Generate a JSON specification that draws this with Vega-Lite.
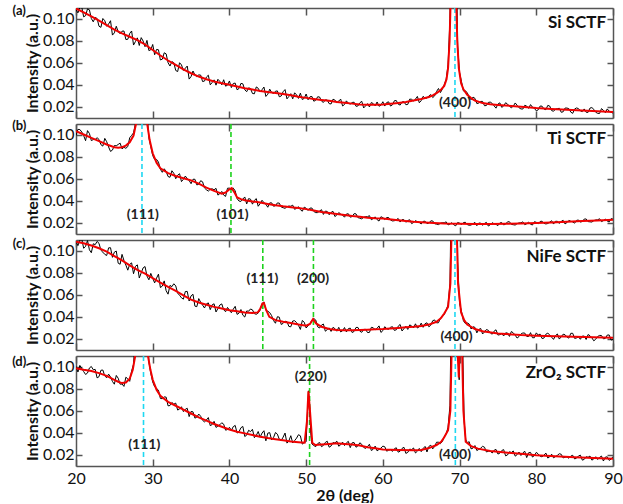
{
  "$schema": "https://vega.github.io/schema/vega-lite/v6.json",
  "padding": {"left": 12, "top": 4, "right": 0, "bottom": 0},
  "bounds": "flush",
  "spacing": 6,
  "config": {
    "font": "Lato",
    "view": {"stroke": null},
    "axis": {
      "grid": false,
      "domainColor": "#555",
      "domainWidth": 1.5,
      "tickColor": "#555",
      "tickWidth": 1.5,
      "labelColor": "#111",
      "titleColor": "#111",
      "labelFont": "Lato",
      "titleFont": "Lato",
      "labelFlush": false
    },
    "text": {"font": "Lato"}
  },
  "datasets": {
    "a_obs": [
      {"x":20,"y":0.108},{"x":20.5,"y":0.110},{"x":21,"y":0.1015},{"x":21.5,"y":0.1087},{"x":22,"y":0.100},{"x":22.5,"y":0.101},{"x":23,"y":0.093},{"x":23.5,"y":0.100},{"x":24,"y":0.093},{"x":24.5,"y":0.098},
      {"x":25,"y":0.087},{"x":25.5,"y":0.088},{"x":26,"y":0.0885},{"x":26.5,"y":0.081},{"x":27,"y":0.0865},{"x":27.5,"y":0.076},{"x":28,"y":0.0825},{"x":28.5,"y":0.0827},{"x":29,"y":0.0745},{"x":29.5,"y":0.071},
      {"x":30,"y":0.0765},{"x":30.5,"y":0.072},{"x":31,"y":0.0625},{"x":31.5,"y":0.069},{"x":32,"y":0.060},{"x":32.5,"y":0.061},{"x":33,"y":0.053},{"x":33.5,"y":0.060},{"x":34,"y":0.053},{"x":34.5,"y":0.057},
      {"x":35,"y":0.0475},{"x":35.5,"y":0.049},{"x":36,"y":0.049},{"x":36.5,"y":0.043},{"x":37,"y":0.047},{"x":37.5,"y":0.040},{"x":38,"y":0.0445},{"x":38.5,"y":0.045},{"x":39,"y":0.040},{"x":39.5,"y":0.0388},
      {"x":40,"y":0.0435},{"x":40.5,"y":0.0412},{"x":41,"y":0.0355},{"x":41.5,"y":0.0413},{"x":42,"y":0.0355},{"x":42.5,"y":0.0373},{"x":43,"y":0.0322},{"x":43.5,"y":0.0381},{"x":44,"y":0.0335},{"x":44.5,"y":0.038},
      {"x":45,"y":0.0315},{"x":45.5,"y":0.0331},{"x":46,"y":0.0342},{"x":46.5,"y":0.0292},{"x":47,"y":0.0338},{"x":47.5,"y":0.0273},{"x":48,"y":0.032},{"x":48.5,"y":0.0328},{"x":49,"y":0.0277},{"x":49.5,"y":0.0267},
      {"x":50,"y":0.0317},{"x":50.5,"y":0.0292},{"x":51,"y":0.0252},{"x":51.5,"y":0.0292},{"x":52,"y":0.0253},{"x":52.5,"y":0.0264},{"x":53,"y":0.023},{"x":53.5,"y":0.027},{"x":54,"y":0.024},{"x":54.5,"y":0.0271},
      {"x":55,"y":0.0222},{"x":55.5,"y":0.0233},{"x":56,"y":0.024},{"x":56.5,"y":0.0206},{"x":57,"y":0.0237},{"x":57.5,"y":0.0191},{"x":58,"y":0.023},{"x":58.5,"y":0.024},{"x":59,"y":0.021},{"x":59.5,"y":0.0206},
      {"x":60,"y":0.0247},{"x":60.5,"y":0.024},{"x":61,"y":0.0208},{"x":61.5,"y":0.0256},{"x":62,"y":0.0225},{"x":62.5,"y":0.0245},{"x":63,"y":0.022},{"x":63.5,"y":0.0271},{"x":64,"y":0.0253},{"x":64.5,"y":0.0295},
      {"x":65,"y":0.0257},{"x":65.5,"y":0.028},{"x":66,"y":0.030},{"x":66.5,"y":0.0285},{"x":67,"y":0.034},{"x":67.5,"y":0.033},{"x":68,"y":0.040},{"x":68.25,"y":0.045},{"x":68.5,"y":0.058},{"x":68.75,"y":0.1},
      {"x":69,"y":0.3},{"x":69.25,"y":0.4},{"x":69.5,"y":0.2},{"x":69.75,"y":0.075},{"x":70,"y":0.051},{"x":70.25,"y":0.043},{"x":70.5,"y":0.0345},{"x":71,"y":0.033},{"x":71.5,"y":0.0265},{"x":72,"y":0.0278},
      {"x":72.5,"y":0.0235},{"x":73,"y":0.025},{"x":73.5,"y":0.0213},{"x":74,"y":0.0244},{"x":74.5,"y":0.021},{"x":75,"y":0.0226},{"x":75.5,"y":0.0196},{"x":76,"y":0.0238},{"x":76.5,"y":0.0205},{"x":77,"y":0.0207},
      {"x":77.5,"y":0.0215},{"x":78,"y":0.0182},{"x":78.5,"y":0.0215},{"x":79,"y":0.0187},{"x":79.5,"y":0.0198},{"x":80,"y":0.0165},{"x":80.5,"y":0.0208},{"x":81,"y":0.0181},{"x":81.5,"y":0.0214},{"x":82,"y":0.0167},
      {"x":82.5,"y":0.018},{"x":83,"y":0.0188},{"x":83.5,"y":0.0156},{"x":84,"y":0.019},{"x":84.5,"y":0.0153},{"x":85,"y":0.0182},{"x":85.5,"y":0.0185},{"x":86,"y":0.0158},{"x":86.5,"y":0.0152},{"x":87,"y":0.019},
      {"x":87.5,"y":0.0178},{"x":88,"y":0.0142},{"x":88.5,"y":0.0185},{"x":89,"y":0.0148},{"x":89.5,"y":0.0162},{"x":90,"y":0.0145},
      {"x":20.25,"y":0.1051},{"x":20.75,"y":0.1103},{"x":21.25,"y":0.1026},{"x":21.75,"y":0.1078},{"x":22.25,"y":0.097},{"x":22.75,"y":0.100},{"x":23.25,"y":0.092},{"x":23.75,"y":0.098},{"x":24.25,"y":0.095},{"x":24.75,"y":0.085},
      {"x":25.25,"y":0.093},{"x":25.75,"y":0.0862},{"x":26.25,"y":0.0887},{"x":26.75,"y":0.0812},{"x":27.25,"y":0.0887},{"x":27.75,"y":0.0792},{"x":28.25,"y":0.0756},{"x":28.75,"y":0.0796},{"x":29.25,"y":0.0802},{"x":29.75,"y":0.0717},
      {"x":30.25,"y":0.0672},{"x":30.75,"y":0.0717},{"x":31.25,"y":0.0632},{"x":31.75,"y":0.068},{"x":32.25,"y":0.057},{"x":32.75,"y":0.060},{"x":33.25,"y":0.052},{"x":33.75,"y":0.058},{"x":34.25,"y":0.055},{"x":34.75,"y":0.0452},
      {"x":35.25,"y":0.0525},{"x":35.75,"y":0.0475},{"x":36.25,"y":0.0488},{"x":36.75,"y":0.0434},{"x":37.25,"y":0.0487},{"x":37.75,"y":0.0421},{"x":38.25,"y":0.0397},{"x":38.75,"y":0.0431},{"x":39.25,"y":0.0446},{"x":39.75,"y":0.0397},
      {"x":40.25,"y":0.0375},{"x":40.75,"y":0.0416},{"x":41.25,"y":0.0367},{"x":41.75,"y":0.0409},{"x":42.25,"y":0.0338},{"x":42.75,"y":0.0367},{"x":43.25,"y":0.0319},{"x":43.75,"y":0.0369},{"x":44.25,"y":0.0356},{"x":44.75,"y":0.0295},
      {"x":45.25,"y":0.0361},{"x":45.75,"y":0.0322},{"x":46.25,"y":0.0345},{"x":46.75,"y":0.0299},{"x":47.25,"y":0.0357},{"x":47.75,"y":0.0295},{"x":48.25,"y":0.0273},{"x":48.75,"y":0.0309},{"x":49.25,"y":0.0325},{"x":49.75,"y":0.0278},
      {"x":50.25,"y":0.0265},{"x":50.75,"y":0.0295},{"x":51.25,"y":0.026},{"x":51.75,"y":0.029},{"x":52.25,"y":0.0241},{"x":52.75,"y":0.0262},{"x":53.25,"y":0.0227},{"x":53.75,"y":0.0262},{"x":54.25,"y":0.0253},{"x":54.75,"y":0.0209},
      {"x":55.25,"y":0.0255},{"x":55.75,"y":0.0226},{"x":56.25,"y":0.0243},{"x":56.75,"y":0.0209},{"x":57.25,"y":0.0251},{"x":57.75,"y":0.021},{"x":58.25,"y":0.020},{"x":58.75,"y":0.023},{"x":59.25,"y":0.0245},{"x":59.75,"y":0.0216},
      {"x":60.25,"y":0.0208},{"x":60.75,"y":0.0246},{"x":61.25,"y":0.0219},{"x":61.75,"y":0.0258},{"x":62.25,"y":0.0217},{"x":62.75,"y":0.0247},{"x":63.25,"y":0.0223},{"x":63.75,"y":0.0269},{"x":64.25,"y":0.0271},{"x":64.75,"y":0.0238},
      {"x":65.25,"y":0.0296},{"x":65.75,"y":0.028},{"x":66.25,"y":0.0312},{"x":66.75,"y":0.030},{"x":67.25,"y":0.0367},{"x":67.75,"y":0.036},{"x":70.75,"y":0.0345},{"x":71.25,"y":0.0285},{"x":71.75,"y":0.0289},{"x":72.25,"y":0.0231},
      {"x":72.75,"y":0.025},{"x":73.25,"y":0.0211},{"x":73.75,"y":0.0241},{"x":74.25,"y":0.0232},{"x":74.75,"y":0.0189},{"x":75.25,"y":0.0237},{"x":75.75,"y":0.0209},{"x":76.25,"y":0.0226},{"x":76.75,"y":0.0193},{"x":77.25,"y":0.0236},
      {"x":77.75,"y":0.0193},{"x":78.25,"y":0.0181},{"x":78.75,"y":0.0208},{"x":79.25,"y":0.0221},{"x":79.75,"y":0.0188},{"x":80.25,"y":0.0174},{"x":80.75,"y":0.0207},{"x":81.25,"y":0.0175},{"x":81.75,"y":0.0208},{"x":82.25,"y":0.0161},
      {"x":82.75,"y":0.0184},{"x":83.25,"y":0.0152},{"x":83.75,"y":0.019},{"x":84.25,"y":0.0184},{"x":84.75,"y":0.0142},{"x":85.25,"y":0.0191},{"x":85.75,"y":0.0164},{"x":86.25,"y":0.0182},{"x":86.75,"y":0.0151},{"x":87.25,"y":0.0194},
      {"x":87.75,"y":0.0152},{"x":88.25,"y":0.0141},{"x":88.75,"y":0.0169},{"x":89.25,"y":0.0182},{"x":89.75,"y":0.0151}
    ],
    "a_fit": [
      {"x":20,"y":0.109},{"x":21,"y":0.1055},{"x":22,"y":0.102},{"x":23,"y":0.098},{"x":24,"y":0.094},{"x":25,"y":0.090},{"x":26,"y":0.0865},{"x":27,"y":0.0835},{"x":28,"y":0.0805},{"x":29,"y":0.0765},
      {"x":30,"y":0.0715},{"x":31,"y":0.0665},{"x":32,"y":0.062},{"x":33,"y":0.058},{"x":34,"y":0.054},{"x":35,"y":0.0505},{"x":36,"y":0.0475},{"x":37,"y":0.045},{"x":38,"y":0.043},{"x":39,"y":0.0415},
      {"x":40,"y":0.040},{"x":41,"y":0.0385},{"x":42,"y":0.037},{"x":43,"y":0.0357},{"x":44,"y":0.0345},{"x":45,"y":0.0335},{"x":46,"y":0.0327},{"x":47,"y":0.0318},{"x":48,"y":0.0305},{"x":49,"y":0.0292},
      {"x":50,"y":0.0282},{"x":51,"y":0.0272},{"x":52,"y":0.0263},{"x":53,"y":0.0255},{"x":54,"y":0.0245},{"x":55,"y":0.0237},{"x":56,"y":0.023},{"x":57,"y":0.0222},{"x":58,"y":0.022},{"x":59,"y":0.022},
      {"x":60,"y":0.0222},{"x":61,"y":0.0228},{"x":62,"y":0.0235},{"x":63,"y":0.0245},{"x":64,"y":0.0258},{"x":65,"y":0.0272},{"x":66,"y":0.029},{"x":66.5,"y":0.0305},{"x":67,"y":0.0325},{"x":67.5,"y":0.035},
      {"x":68,"y":0.039},{"x":68.3,"y":0.045},{"x":68.5,"y":0.055},{"x":68.7,"y":0.08},{"x":68.85,"y":0.12},{"x":69.2,"y":0.5},{"x":69.55,"y":0.12},{"x":69.7,"y":0.08},{"x":69.9,"y":0.055},{"x":70.2,"y":0.0415},
      {"x":70.5,"y":0.036},{"x":71,"y":0.031},{"x":71.5,"y":0.028},{"x":72,"y":0.0258},{"x":73,"y":0.0235},{"x":74,"y":0.0224},{"x":75,"y":0.0218},{"x":76,"y":0.0213},{"x":78,"y":0.0202},{"x":80,"y":0.019},
      {"x":82,"y":0.0182},{"x":84,"y":0.0175},{"x":86,"y":0.0168},{"x":88,"y":0.0162},{"x":90,"y":0.0155}
    ],
    "a_lines": [{"x":69.4,"phase":"substrate"}],
    "a_peaks": [{"x":69.4,"y":0.0235,"label":"(400)"}],
    "a_tags": [{"x":12.6,"y":0.1072,"label":"(a)"}],
    "a_title": [{"x":89.1,"y":0.096,"label":"Si SCTF"}],
    "b_obs": [
      {"x":20,"y":0.099},{"x":20.5,"y":0.1045},{"x":21,"y":0.099},{"x":21.5,"y":0.1035},{"x":22,"y":0.0945},{"x":22.5,"y":0.0955},{"x":23,"y":0.0955},{"x":23.5,"y":0.0895},{"x":24,"y":0.0935},{"x":24.5,"y":0.0847},
      {"x":25,"y":0.090},{"x":25.5,"y":0.091},{"x":26,"y":0.087},{"x":26.5,"y":0.0875},{"x":27,"y":0.097},{"x":27.5,"y":0.1015},{"x":27.75,"y":0.11},{"x":28,"y":0.2},{"x":28.25,"y":0.4},{"x":28.5,"y":0.5},
      {"x":28.75,"y":0.4},{"x":29,"y":0.2},{"x":29.25,"y":0.12},{"x":29.5,"y":0.097},{"x":29.75,"y":0.089},{"x":30,"y":0.081},{"x":30.5,"y":0.0775},{"x":31,"y":0.0685},{"x":31.5,"y":0.069},{"x":32,"y":0.062},
      {"x":32.5,"y":0.0672},{"x":33,"y":0.060},{"x":33.5,"y":0.0645},{"x":34,"y":0.0595},{"x":34.5,"y":0.060},{"x":35,"y":0.0555},{"x":35.5,"y":0.0595},{"x":36,"y":0.055},{"x":36.5,"y":0.0572},{"x":37,"y":0.050},
      {"x":37.5,"y":0.0505},{"x":38,"y":0.050},{"x":38.5,"y":0.0452},{"x":39,"y":0.0485},{"x":39.5,"y":0.044},{"x":40,"y":0.0515},{"x":40.5,"y":0.0515},{"x":41,"y":0.042},{"x":41.5,"y":0.0395},{"x":42,"y":0.0435},
      {"x":42.5,"y":0.042},{"x":43,"y":0.037},{"x":43.5,"y":0.042},{"x":44,"y":0.0375},{"x":44.5,"y":0.0383},{"x":45,"y":0.0342},{"x":45.5,"y":0.0382},{"x":46,"y":0.0356},{"x":46.5,"y":0.0379},{"x":47,"y":0.0338},
      {"x":47.5,"y":0.0347},{"x":48,"y":0.0351},{"x":48.5,"y":0.0323},{"x":49,"y":0.0347},{"x":49.5,"y":0.0306},{"x":50,"y":0.0333},{"x":50.5,"y":0.0334},{"x":51,"y":0.0304},{"x":51.5,"y":0.0294},{"x":52,"y":0.032},
      {"x":52.5,"y":0.0307},{"x":53,"y":0.0274},{"x":53.5,"y":0.0305},{"x":54,"y":0.0272},{"x":54.5,"y":0.028},{"x":55,"y":0.0252},{"x":55.5,"y":0.0283},{"x":56,"y":0.0258},{"x":56.5,"y":0.0282},{"x":57,"y":0.0243},
      {"x":57.5,"y":0.0251},{"x":58,"y":0.0256},{"x":58.5,"y":0.0229},{"x":59,"y":0.0255},{"x":59.5,"y":0.0217},{"x":60,"y":0.0248},{"x":60.5,"y":0.0248},{"x":61,"y":0.0226},{"x":61.5,"y":0.022},{"x":62,"y":0.024},
      {"x":62.5,"y":0.023},{"x":63,"y":0.0206},{"x":63.5,"y":0.0229},{"x":64,"y":0.0204},{"x":64.5,"y":0.0211},{"x":65,"y":0.0191},{"x":65.5,"y":0.0216},{"x":66,"y":0.0199},{"x":66.5,"y":0.0218},{"x":67,"y":0.0189},
      {"x":67.5,"y":0.0197},{"x":68,"y":0.0201},{"x":68.5,"y":0.0182},{"x":69,"y":0.0202},{"x":69.5,"y":0.0174},{"x":70,"y":0.0198},{"x":70.5,"y":0.0203},{"x":71,"y":0.0185},{"x":71.5,"y":0.0181},{"x":72,"y":0.0205},
      {"x":72.5,"y":0.0199},{"x":73,"y":0.0178},{"x":73.5,"y":0.0205},{"x":74,"y":0.0184},{"x":74.5,"y":0.0193},{"x":75,"y":0.0176},{"x":75.5,"y":0.0203},{"x":76,"y":0.0189},{"x":76.5,"y":0.0211},{"x":77,"y":0.0184},
      {"x":77.5,"y":0.0194},{"x":78,"y":0.0201},{"x":78.5,"y":0.0184},{"x":79,"y":0.0206},{"x":79.5,"y":0.0181},{"x":80,"y":0.0206},{"x":80.5,"y":0.0213},{"x":81,"y":0.0196},{"x":81.5,"y":0.0195},{"x":82,"y":0.022},
      {"x":82.5,"y":0.0215},{"x":83,"y":0.0195},{"x":83.5,"y":0.0224},{"x":84,"y":0.0204},{"x":84.5,"y":0.0215},{"x":85,"y":0.0198},{"x":85.5,"y":0.0227},{"x":86,"y":0.0214},{"x":86.5,"y":0.0236},{"x":87,"y":0.021},
      {"x":87.5,"y":0.0221},{"x":88,"y":0.0228},{"x":88.5,"y":0.0212},{"x":89,"y":0.0234},{"x":89.5,"y":0.0209},{"x":90,"y":0.0234},
      {"x":20.25,"y":0.1046},{"x":20.75,"y":0.1023},{"x":21.25,"y":0.0944},{"x":21.75,"y":0.1009},{"x":22.25,"y":0.0954},{"x":22.75,"y":0.0971},{"x":23.25,"y":0.0908},{"x":23.75,"y":0.0965},{"x":24.25,"y":0.0887},{"x":24.75,"y":0.0859},
      {"x":25.25,"y":0.0898},{"x":25.75,"y":0.0922},{"x":26.25,"y":0.0884},{"x":26.75,"y":0.0891},{"x":27.25,"y":0.0992},{"x":30.25,"y":0.0775},{"x":30.75,"y":0.075},{"x":31.25,"y":0.0658},{"x":31.75,"y":0.0666},{"x":32.25,"y":0.0613},
      {"x":32.75,"y":0.0649},{"x":33.25,"y":0.0632},{"x":33.75,"y":0.0574},{"x":34.25,"y":0.0624},{"x":34.75,"y":0.0584},{"x":35.25,"y":0.0595},{"x":35.75,"y":0.0544},{"x":36.25,"y":0.0582},{"x":36.75,"y":0.0516},{"x":37.25,"y":0.0488},
      {"x":37.75,"y":0.0509},{"x":38.25,"y":0.0513},{"x":38.75,"y":0.0465},{"x":39.25,"y":0.0452},{"x":39.75,"y":0.0514},{"x":40.25,"y":0.0503},{"x":40.75,"y":0.049},{"x":41.25,"y":0.0398},{"x":41.75,"y":0.0416},{"x":42.25,"y":0.0372},
      {"x":42.75,"y":0.0415},{"x":43.25,"y":0.0404},{"x":43.75,"y":0.0351},{"x":44.25,"y":0.0405},{"x":44.75,"y":0.0369},{"x":45.25,"y":0.0381},{"x":45.75,"y":0.0351},{"x":46.25,"y":0.0381},{"x":46.75,"y":0.0344},{"x":47.25,"y":0.0332},
      {"x":47.75,"y":0.0353},{"x":48.25,"y":0.0361},{"x":48.75,"y":0.0333},{"x":49.25,"y":0.032},{"x":49.75,"y":0.0343},{"x":50.25,"y":0.0313},{"x":50.75,"y":0.0335},{"x":51.25,"y":0.0293},{"x":51.75,"y":0.0307},{"x":52.25,"y":0.0277},
      {"x":52.75,"y":0.0304},{"x":53.25,"y":0.0295},{"x":53.75,"y":0.0258},{"x":54.25,"y":0.0294},{"x":54.75,"y":0.027},{"x":55.25,"y":0.0281},{"x":55.75,"y":0.0252},{"x":56.25,"y":0.0284},{"x":56.75,"y":0.0248},{"x":57.25,"y":0.0237},
      {"x":57.75,"y":0.0257},{"x":58.25,"y":0.0266},{"x":58.75,"y":0.024},{"x":59.25,"y":0.023},{"x":59.75,"y":0.0256},{"x":60.25,"y":0.0232},{"x":60.75,"y":0.0249},{"x":61.25,"y":0.0218},{"x":61.75,"y":0.023},{"x":62.25,"y":0.0208},
      {"x":62.75,"y":0.0229},{"x":63.25,"y":0.0222},{"x":63.75,"y":0.0194},{"x":64.25,"y":0.0221},{"x":64.75,"y":0.0204},{"x":65.25,"y":0.0214},{"x":65.75,"y":0.0194},{"x":66.25,"y":0.0219},{"x":66.75,"y":0.0193},{"x":67.25,"y":0.0185},
      {"x":67.75,"y":0.0202},{"x":68.25,"y":0.021},{"x":68.75,"y":0.019},{"x":69.25,"y":0.0183},{"x":69.75,"y":0.0204},{"x":70.25,"y":0.0186},{"x":70.75,"y":0.0206},{"x":71.25,"y":0.0179},{"x":71.75,"y":0.0193},{"x":72.25,"y":0.0175},
      {"x":72.75,"y":0.0199},{"x":73.25,"y":0.0196},{"x":73.75,"y":0.0172},{"x":74.25,"y":0.0202},{"x":74.75,"y":0.0187},{"x":75.25,"y":0.020},{"x":75.75,"y":0.0182},{"x":76.25,"y":0.021},{"x":76.75,"y":0.0187},{"x":77.25,"y":0.0181},
      {"x":77.75,"y":0.020},{"x":78.25,"y":0.021},{"x":78.75,"y":0.0193},{"x":79.25,"y":0.0189},{"x":79.75,"y":0.0211},{"x":80.25,"y":0.0194},{"x":80.75,"y":0.0216},{"x":81.25,"y":0.0191},{"x":81.75,"y":0.0207},{"x":82.25,"y":0.019},
      {"x":82.75,"y":0.0215},{"x":83.25,"y":0.0214},{"x":83.75,"y":0.0191},{"x":84.25,"y":0.0223},{"x":84.75,"y":0.0209},{"x":85.25,"y":0.0223},{"x":85.75,"y":0.0207},{"x":86.25,"y":0.0235},{"x":86.75,"y":0.0212},{"x":87.25,"y":0.0208},
      {"x":87.75,"y":0.0227},{"x":88.25,"y":0.0238},{"x":88.75,"y":0.0221},{"x":89.25,"y":0.0217},{"x":89.75,"y":0.0239}
    ],
    "b_fit": [
      {"x":20,"y":0.103},{"x":21,"y":0.100},{"x":22,"y":0.097},{"x":23,"y":0.094},{"x":24,"y":0.091},{"x":25,"y":0.0885},{"x":25.5,"y":0.088},{"x":26,"y":0.0885},{"x":26.5,"y":0.090},{"x":27,"y":0.093},
      {"x":27.5,"y":0.099},{"x":27.8,"y":0.109},{"x":28,"y":0.13},{"x":28.5,"y":0.4},{"x":29,"y":0.15},{"x":29.3,"y":0.109},{"x":29.6,"y":0.095},{"x":30,"y":0.083},{"x":30.5,"y":0.0745},{"x":31,"y":0.0695},
      {"x":32,"y":0.065},{"x":33,"y":0.0625},{"x":34,"y":0.0605},{"x":35,"y":0.0585},{"x":36,"y":0.0555},{"x":37,"y":0.052},{"x":38,"y":0.049},{"x":39,"y":0.0465},{"x":39.5,"y":0.0475},{"x":40,"y":0.0505},
      {"x":40.3,"y":0.0515},{"x":40.7,"y":0.047},{"x":41,"y":0.043},{"x":41.5,"y":0.0415},{"x":42,"y":0.0405},{"x":43,"y":0.0395},{"x":44,"y":0.0385},{"x":45,"y":0.0372},{"x":46,"y":0.036},{"x":47,"y":0.035},
      {"x":48,"y":0.0343},{"x":49,"y":0.0335},{"x":50,"y":0.0325},{"x":51,"y":0.0312},{"x":52,"y":0.030},{"x":53,"y":0.029},{"x":54,"y":0.028},{"x":55,"y":0.0272},{"x":56,"y":0.0262},{"x":57,"y":0.0255},
      {"x":58,"y":0.0248},{"x":59,"y":0.0243},{"x":60,"y":0.024},{"x":62,"y":0.0225},{"x":64,"y":0.021},{"x":66,"y":0.0202},{"x":68,"y":0.0195},{"x":70,"y":0.0192},{"x":72,"y":0.019},{"x":74,"y":0.019},
      {"x":76,"y":0.0192},{"x":78,"y":0.0195},{"x":80,"y":0.020},{"x":82,"y":0.0205},{"x":84,"y":0.021},{"x":86,"y":0.0217},{"x":88,"y":0.0222},{"x":90,"y":0.0228}
    ],
    "b_lines": [{"x":28.6,"phase":"substrate"},{"x":40.2,"phase":"film"}],
    "b_peaks": [{"x":28.7,"y":0.0272,"label":"(111)"},{"x":40.4,"y":0.0272,"label":"(101)"}],
    "b_tags": [{"x":12.6,"y":0.1077,"label":"(b)"}],
    "b_title": [{"x":89.1,"y":0.096,"label":"Ti SCTF"}],
    "c_obs": [
      {"x":20,"y":0.108},{"x":20.5,"y":0.1093},{"x":21,"y":0.102},{"x":21.5,"y":0.109},{"x":22,"y":0.098},{"x":22.5,"y":0.1053},{"x":23,"y":0.1065},{"x":23.5,"y":0.0985},{"x":24,"y":0.0955},{"x":24.5,"y":0.1025},
      {"x":25,"y":0.0985},{"x":25.5,"y":0.0885},{"x":26,"y":0.0965},{"x":26.5,"y":0.0868},{"x":27,"y":0.0875},{"x":27.5,"y":0.079},{"x":28,"y":0.087},{"x":28.5,"y":0.0798},{"x":29,"y":0.0855},{"x":29.5,"y":0.0735},
      {"x":30,"y":0.075},{"x":30.5,"y":0.075},{"x":31,"y":0.0665},{"x":31.5,"y":0.0725},{"x":32,"y":0.0605},{"x":32.5,"y":0.0673},{"x":33,"y":0.068},{"x":33.5,"y":0.0595},{"x":34,"y":0.056},{"x":34.5,"y":0.063},
      {"x":35,"y":0.059},{"x":35.5,"y":0.0497},{"x":36,"y":0.0565},{"x":36.5,"y":0.0506},{"x":37,"y":0.0517},{"x":37.5,"y":0.0465},{"x":38,"y":0.0518},{"x":38.5,"y":0.0475},{"x":39,"y":0.0517},{"x":39.5,"y":0.0446},
      {"x":40,"y":0.046},{"x":40.5,"y":0.0469},{"x":41,"y":0.0422},{"x":41.5,"y":0.0466},{"x":42,"y":0.0398},{"x":42.5,"y":0.0451},{"x":43,"y":0.0463},{"x":43.5,"y":0.0423},{"x":44,"y":0.046},{"x":44.25,"y":0.052},
      {"x":44.5,"y":0.0535},{"x":44.75,"y":0.046},{"x":45,"y":0.0451},{"x":45.5,"y":0.0411},{"x":46,"y":0.0342},{"x":46.5,"y":0.0397},{"x":47,"y":0.0341},{"x":47.5,"y":0.0357},{"x":48,"y":0.031},{"x":48.5,"y":0.0365},
      {"x":49,"y":0.0323},{"x":49.5,"y":0.0367},{"x":50,"y":0.0299},{"x":50.5,"y":0.0335},{"x":50.75,"y":0.037},{"x":51,"y":0.0385},{"x":51.5,"y":0.031},{"x":52,"y":0.0325},{"x":52.5,"y":0.027},{"x":53,"y":0.030},
      {"x":53.5,"y":0.0305},{"x":54,"y":0.027},{"x":54.5,"y":0.0264},{"x":55,"y":0.0303},{"x":55.5,"y":0.0293},{"x":56,"y":0.0258},{"x":56.5,"y":0.0304},{"x":57,"y":0.027},{"x":57.5,"y":0.0286},{"x":58,"y":0.0258},
      {"x":58.5,"y":0.0305},{"x":59,"y":0.0282},{"x":59.5,"y":0.0318},{"x":60,"y":0.0275},{"x":60.5,"y":0.0292},{"x":61,"y":0.0305},{"x":61.5,"y":0.0277},{"x":62,"y":0.0315},{"x":62.5,"y":0.0272},{"x":63,"y":0.0315},
      {"x":63.5,"y":0.0327},{"x":64,"y":0.030},{"x":64.5,"y":0.0299},{"x":65,"y":0.0343},{"x":65.5,"y":0.0338},{"x":66,"y":0.031},{"x":66.5,"y":0.0365},{"x":67,"y":0.0345},{"x":67.5,"y":0.0385},{"x":68,"y":0.042},
      {"x":68.25,"y":0.046},{"x":68.5,"y":0.051},{"x":68.75,"y":0.07},{"x":69,"y":0.2},{"x":69.25,"y":0.4},{"x":69.5,"y":0.3},{"x":69.75,"y":0.09},{"x":70,"y":0.052},{"x":70.25,"y":0.045},{"x":70.5,"y":0.0365},
      {"x":71,"y":0.0345},{"x":71.5,"y":0.029},{"x":72,"y":0.0305},{"x":72.5,"y":0.0285},{"x":73,"y":0.0245},{"x":73.5,"y":0.0285},{"x":74,"y":0.0255},{"x":74.5,"y":0.027},{"x":75,"y":0.0235},{"x":75.5,"y":0.0248},
      {"x":76,"y":0.0255},{"x":76.5,"y":0.0223},{"x":77,"y":0.0255},{"x":77.5,"y":0.0208},{"x":78,"y":0.0245},{"x":78.5,"y":0.0253},{"x":79,"y":0.0222},{"x":79.5,"y":0.0211},{"x":80,"y":0.0255},{"x":80.5,"y":0.0244},
      {"x":81,"y":0.0208},{"x":81.5,"y":0.0252},{"x":82,"y":0.0216},{"x":82.5,"y":0.023},{"x":83,"y":0.0199},{"x":83.5,"y":0.0243},{"x":84,"y":0.0217},{"x":84.5,"y":0.0251},{"x":85,"y":0.0205},{"x":85.5,"y":0.0218},
      {"x":86,"y":0.0226},{"x":86.5,"y":0.0195},{"x":87,"y":0.0229},{"x":87.5,"y":0.0183},{"x":88,"y":0.0222},{"x":88.5,"y":0.0231},{"x":89,"y":0.0205},{"x":89.5,"y":0.0236},{"x":90,"y":0.0195},
      {"x":20.25,"y":0.1044},{"x":20.75,"y":0.1105},{"x":21.25,"y":0.1038},{"x":21.75,"y":0.1006},{"x":22.25,"y":0.1061},{"x":22.75,"y":0.1082},{"x":23.25,"y":0.1002},{"x":23.75,"y":0.0965},{"x":24.25,"y":0.1024},{"x":24.75,"y":0.0938},
      {"x":25.25,"y":0.0995},{"x":25.75,"y":0.0876},{"x":26.25,"y":0.091},{"x":26.75,"y":0.0822},{"x":27.25,"y":0.0888},{"x":27.75,"y":0.0857},{"x":28.25,"y":0.0751},{"x":28.75,"y":0.0843},{"x":29.25,"y":0.0769},{"x":29.75,"y":0.0793},
      {"x":30.25,"y":0.0707},{"x":30.75,"y":0.0786},{"x":31.25,"y":0.0678},{"x":31.75,"y":0.0636},{"x":32.25,"y":0.0684},{"x":32.75,"y":0.0699},{"x":33.25,"y":0.0614},{"x":33.75,"y":0.0572},{"x":34.25,"y":0.0629},{"x":34.75,"y":0.0543},
      {"x":35.25,"y":0.0604},{"x":35.75,"y":0.0492},{"x":36.25,"y":0.0532},{"x":36.75,"y":0.048},{"x":37.25,"y":0.0526},{"x":37.75,"y":0.0509},{"x":38.25,"y":0.0444},{"x":38.75,"y":0.0507},{"x":39.25,"y":0.0464},{"x":39.75,"y":0.0485},
      {"x":40.25,"y":0.0437},{"x":40.75,"y":0.0495},{"x":41.25,"y":0.0434},{"x":41.75,"y":0.0415},{"x":42.25,"y":0.0453},{"x":42.75,"y":0.0471},{"x":43.25,"y":0.0429},{"x":43.75,"y":0.0435},{"x":45.25,"y":0.0438},{"x":45.75,"y":0.0366},
      {"x":46.25,"y":0.0401},{"x":46.75,"y":0.0331},{"x":47.25,"y":0.036},{"x":47.75,"y":0.0313},{"x":48.25,"y":0.0362},{"x":48.75,"y":0.0348},{"x":49.25,"y":0.0286},{"x":49.75,"y":0.0351},{"x":50.25,"y":0.032},{"x":51.25,"y":0.0371},
      {"x":51.75,"y":0.0299},{"x":52.25,"y":0.0335},{"x":52.75,"y":0.0285},{"x":53.25,"y":0.0268},{"x":53.75,"y":0.0293},{"x":54.25,"y":0.0305},{"x":54.75,"y":0.0274},{"x":55.25,"y":0.0263},{"x":55.75,"y":0.0298},{"x":56.25,"y":0.0268},
      {"x":56.75,"y":0.0304},{"x":57.25,"y":0.026},{"x":57.75,"y":0.0287},{"x":58.25,"y":0.0259},{"x":58.75,"y":0.0301},{"x":59.25,"y":0.0297},{"x":59.75,"y":0.0259},{"x":60.25,"y":0.0311},{"x":60.75,"y":0.0288},{"x":61.25,"y":0.0311},
      {"x":61.75,"y":0.0283},{"x":62.25,"y":0.0331},{"x":62.75,"y":0.0293},{"x":63.25,"y":0.0286},{"x":63.75,"y":0.0318},{"x":64.25,"y":0.0337},{"x":64.75,"y":0.0311},{"x":65.25,"y":0.0305},{"x":65.75,"y":0.0346},{"x":66.25,"y":0.0325},
      {"x":66.75,"y":0.0372},{"x":67.25,"y":0.0347},{"x":67.75,"y":0.041},{"x":70.75,"y":0.034},{"x":71.25,"y":0.0335},{"x":71.75,"y":0.031},{"x":72.25,"y":0.0255},{"x":72.75,"y":0.0295},{"x":73.25,"y":0.0263},{"x":73.75,"y":0.0278},
      {"x":74.25,"y":0.0243},{"x":74.75,"y":0.0283},{"x":75.25,"y":0.0239},{"x":75.75,"y":0.0227},{"x":76.25,"y":0.0254},{"x":76.75,"y":0.0267},{"x":77.25,"y":0.0234},{"x":77.75,"y":0.0222},{"x":78.25,"y":0.0254},{"x":78.75,"y":0.0223},
      {"x":79.25,"y":0.0257},{"x":79.75,"y":0.0211},{"x":80.25,"y":0.0235},{"x":80.75,"y":0.0204},{"x":81.25,"y":0.0243},{"x":81.75,"y":0.0237},{"x":82.25,"y":0.0196},{"x":82.75,"y":0.0245},{"x":83.25,"y":0.0219},{"x":83.75,"y":0.0238},
      {"x":84.25,"y":0.0207},{"x":84.75,"y":0.0251},{"x":85.25,"y":0.0209},{"x":85.75,"y":0.0197},{"x":86.25,"y":0.0226},{"x":86.75,"y":0.024},{"x":87.25,"y":0.0209},{"x":87.75,"y":0.0198},{"x":88.25,"y":0.0232},{"x":88.75,"y":0.0201},
      {"x":89.25,"y":0.0235},{"x":89.75,"y":0.019}
    ],
    "c_fit": [
      {"x":20,"y":0.108},{"x":21,"y":0.1065},{"x":22,"y":0.1045},{"x":23,"y":0.102},{"x":24,"y":0.099},{"x":25,"y":0.095},{"x":26,"y":0.091},{"x":27,"y":0.0865},{"x":28,"y":0.0825},{"x":29,"y":0.079},
      {"x":30,"y":0.075},{"x":31,"y":0.071},{"x":32,"y":0.067},{"x":33,"y":0.0635},{"x":34,"y":0.0595},{"x":35,"y":0.0555},{"x":36,"y":0.053},{"x":37,"y":0.051},{"x":38,"y":0.049},{"x":39,"y":0.0475},
      {"x":40,"y":0.046},{"x":41,"y":0.045},{"x":42,"y":0.044},{"x":43,"y":0.0435},{"x":43.7,"y":0.044},{"x":44,"y":0.047},{"x":44.3,"y":0.052},{"x":44.5,"y":0.0525},{"x":44.8,"y":0.046},{"x":45.2,"y":0.040},
      {"x":46,"y":0.037},{"x":47,"y":0.0355},{"x":48,"y":0.0345},{"x":49,"y":0.033},{"x":50,"y":0.032},{"x":50.5,"y":0.0335},{"x":50.9,"y":0.038},{"x":51.3,"y":0.034},{"x":52,"y":0.031},{"x":53,"y":0.029},
      {"x":54,"y":0.028},{"x":55,"y":0.0278},{"x":56,"y":0.0278},{"x":57,"y":0.028},{"x":58,"y":0.0283},{"x":59,"y":0.0287},{"x":60,"y":0.029},{"x":61,"y":0.0295},{"x":62,"y":0.030},{"x":63,"y":0.0305},
      {"x":64,"y":0.031},{"x":65,"y":0.0318},{"x":66,"y":0.033},{"x":67,"y":0.0355},{"x":67.6,"y":0.039},{"x":68,"y":0.043},{"x":68.5,"y":0.049},{"x":68.8,"y":0.07},{"x":69,"y":0.13},{"x":69.3,"y":0.5},
      {"x":69.6,"y":0.13},{"x":69.8,"y":0.07},{"x":70.2,"y":0.044},{"x":70.6,"y":0.037},{"x":71,"y":0.033},{"x":72,"y":0.029},{"x":73,"y":0.027},{"x":75,"y":0.025},{"x":78,"y":0.0235},{"x":80,"y":0.023},
      {"x":85,"y":0.022},{"x":90,"y":0.021}
    ],
    "c_lines": [{"x":44.35,"phase":"film"},{"x":50.95,"phase":"film"},{"x":69.4,"phase":"substrate"}],
    "c_peaks": [{"x":44.3,"y":0.0745,"label":"(111)"},{"x":50.9,"y":0.0745,"label":"(200)"},{"x":69.6,"y":0.022,"label":"(400)"}],
    "c_tags": [{"x":12.6,"y":0.1059,"label":"(c)"}],
    "c_title": [{"x":89.1,"y":0.0945,"label":"NiFe SCTF"}],
    "d_obs": [
      {"x":20,"y":0.1001},{"x":20.5,"y":0.101},{"x":21,"y":0.0954},{"x":21.5,"y":0.0941},{"x":22,"y":0.100},{"x":22.5,"y":0.0974},{"x":23,"y":0.0908},{"x":23.5,"y":0.0968},{"x":24,"y":0.0899},{"x":24.5,"y":0.0906},
      {"x":25,"y":0.084},{"x":25.5,"y":0.0894},{"x":26,"y":0.0842},{"x":26.5,"y":0.0903},{"x":27,"y":0.0866},{"x":27.5,"y":0.102},{"x":27.75,"y":0.13},{"x":28,"y":0.3},{"x":28.25,"y":0.5},{"x":28.5,"y":0.5},
      {"x":28.75,"y":0.5},{"x":29,"y":0.3},{"x":29.25,"y":0.14},{"x":29.5,"y":0.104},{"x":29.75,"y":0.094},{"x":30,"y":0.086},{"x":30.5,"y":0.0802},{"x":31,"y":0.0711},{"x":31.5,"y":0.0725},{"x":32,"y":0.0644},
      {"x":32.5,"y":0.0674},{"x":33,"y":0.0669},{"x":33.5,"y":0.0615},{"x":34,"y":0.0592},{"x":34.5,"y":0.0622},{"x":35,"y":0.0593},{"x":35.5,"y":0.0533},{"x":36,"y":0.057},{"x":36.5,"y":0.0513},{"x":37,"y":0.0516},
      {"x":37.5,"y":0.0465},{"x":38,"y":0.0504},{"x":38.5,"y":0.0461},{"x":39,"y":0.0491},{"x":39.5,"y":0.0424},{"x":40,"y":0.045},{"x":40.5,"y":0.0456},{"x":41,"y":0.0398},{"x":41.5,"y":0.0446},{"x":42,"y":0.0367},
      {"x":42.5,"y":0.0423},{"x":43,"y":0.0432},{"x":43.5,"y":0.0376},{"x":44,"y":0.0361},{"x":44.5,"y":0.0419},{"x":45,"y":0.0397},{"x":45.5,"y":0.0336},{"x":46,"y":0.0403},{"x":46.5,"y":0.0342},{"x":47,"y":0.0361},
      {"x":47.5,"y":0.0307},{"x":48,"y":0.0374},{"x":48.5,"y":0.033},{"x":49,"y":0.0383},{"x":49.5,"y":0.0298},{"x":50,"y":0.032},{"x":50.15,"y":0.055},{"x":50.3,"y":0.078},{"x":50.45,"y":0.065},{"x":50.6,"y":0.04},
      {"x":50.75,"y":0.03},{"x":51,"y":0.0285},{"x":51.5,"y":0.0302},{"x":52,"y":0.0275},{"x":52.5,"y":0.0313},{"x":53,"y":0.027},{"x":53.5,"y":0.0312},{"x":54,"y":0.0325},{"x":54.5,"y":0.0292},{"x":55,"y":0.0285},
      {"x":55.5,"y":0.0323},{"x":56,"y":0.031},{"x":56.5,"y":0.027},{"x":57,"y":0.031},{"x":57.5,"y":0.0268},{"x":58,"y":0.0275},{"x":58.5,"y":0.024},{"x":59,"y":0.028},{"x":59.5,"y":0.025},{"x":60,"y":0.028},
      {"x":60.5,"y":0.0234},{"x":61,"y":0.0248},{"x":61.5,"y":0.0256},{"x":62,"y":0.0225},{"x":62.5,"y":0.0259},{"x":63,"y":0.0214},{"x":63.5,"y":0.0253},{"x":64,"y":0.0263},{"x":64.5,"y":0.0234},{"x":65,"y":0.023},
      {"x":65.5,"y":0.0277},{"x":66,"y":0.0277},{"x":66.5,"y":0.0255},{"x":67,"y":0.0315},{"x":67.5,"y":0.0302},{"x":68,"y":0.0365},{"x":68.25,"y":0.039},{"x":68.5,"y":0.045},{"x":68.75,"y":0.065},{"x":69,"y":0.2},
      {"x":69.25,"y":0.45},{"x":69.5,"y":0.3},{"x":69.75,"y":0.12},{"x":69.95,"y":0.088},{"x":70.1,"y":0.15},{"x":70.25,"y":0.35},{"x":70.4,"y":0.12},{"x":70.6,"y":0.05},{"x":70.8,"y":0.034},{"x":71,"y":0.031},
      {"x":71.5,"y":0.0255},{"x":72,"y":0.0285},{"x":72.5,"y":0.025},{"x":73,"y":0.0278},{"x":73.5,"y":0.0227},{"x":74,"y":0.0235},{"x":74.5,"y":0.0242},{"x":75,"y":0.0208},{"x":75.5,"y":0.024},{"x":76,"y":0.0192},
      {"x":76.5,"y":0.0229},{"x":77,"y":0.0236},{"x":77.5,"y":0.0203},{"x":78,"y":0.0195},{"x":78.5,"y":0.0233},{"x":79,"y":0.022},{"x":79.5,"y":0.0181},{"x":80,"y":0.0223},{"x":80.5,"y":0.0188},{"x":81,"y":0.0198},
      {"x":81.5,"y":0.0172},{"x":82,"y":0.0207},{"x":82.5,"y":0.0185},{"x":83,"y":0.0211},{"x":83.5,"y":0.0173},{"x":84,"y":0.0183},{"x":84.5,"y":0.019},{"x":85,"y":0.0164},{"x":85.5,"y":0.0191},{"x":86,"y":0.0153},
      {"x":86.5,"y":0.0184},{"x":87,"y":0.019},{"x":87.5,"y":0.0165},{"x":88,"y":0.0159},{"x":88.5,"y":0.019},{"x":89,"y":0.018},{"x":89.5,"y":0.0151},{"x":90,"y":0.0185},
      {"x":20.25,"y":0.095},{"x":20.75,"y":0.0982},{"x":21.25,"y":0.0928},{"x":21.75,"y":0.0987},{"x":22.25,"y":0.0971},{"x":22.75,"y":0.0897},{"x":23.25,"y":0.0966},{"x":23.75,"y":0.0914},{"x":24.25,"y":0.0931},{"x":24.75,"y":0.0865},
      {"x":25.25,"y":0.0919},{"x":25.75,"y":0.084},{"x":26.25,"y":0.082},{"x":26.75,"y":0.0888},{"x":27.25,"y":0.096},{"x":30.25,"y":0.0817},{"x":30.75,"y":0.0786},{"x":31.25,"y":0.0709},{"x":31.75,"y":0.0723},{"x":32.25,"y":0.0647},
      {"x":32.75,"y":0.0659},{"x":33.25,"y":0.0606},{"x":33.75,"y":0.0636},{"x":34.25,"y":0.0613},{"x":34.75,"y":0.0547},{"x":35.25,"y":0.059},{"x":35.75,"y":0.0542},{"x":36.25,"y":0.055},{"x":36.75,"y":0.0499},{"x":37.25,"y":0.0538},
      {"x":37.75,"y":0.0475},{"x":38.25,"y":0.0449},{"x":38.75,"y":0.0473},{"x":39.25,"y":0.0478},{"x":39.75,"y":0.043},{"x":40.25,"y":0.0421},{"x":40.75,"y":0.0467},{"x":41.25,"y":0.041},{"x":41.75,"y":0.0458},{"x":42.25,"y":0.0379},
      {"x":42.75,"y":0.0411},{"x":43.25,"y":0.0356},{"x":43.75,"y":0.0412},{"x":44.25,"y":0.0398},{"x":44.75,"y":0.0328},{"x":45.25,"y":0.0402},{"x":45.75,"y":0.0357},{"x":46.25,"y":0.0388},{"x":46.75,"y":0.0331},{"x":47.25,"y":0.0398},
      {"x":47.75,"y":0.0328},{"x":48.25,"y":0.0308},{"x":48.75,"y":0.0352},{"x":49.25,"y":0.0373},{"x":49.75,"y":0.0313},{"x":51.25,"y":0.0275},{"x":51.75,"y":0.0313},{"x":52.25,"y":0.0286},{"x":52.75,"y":0.0324},{"x":53.25,"y":0.0281},
      {"x":53.75,"y":0.0308},{"x":54.25,"y":0.0279},{"x":54.75,"y":0.0316},{"x":55.25,"y":0.0309},{"x":55.75,"y":0.0266},{"x":56.25,"y":0.0312},{"x":56.75,"y":0.0282},{"x":57.25,"y":0.0296},{"x":57.75,"y":0.0259},{"x":58.25,"y":0.0297},
      {"x":58.75,"y":0.0252},{"x":59.25,"y":0.0237},{"x":59.75,"y":0.0262},{"x":60.25,"y":0.0274},{"x":60.75,"y":0.0243},{"x":61.25,"y":0.0232},{"x":61.75,"y":0.0265},{"x":62.25,"y":0.0234},{"x":62.75,"y":0.0269},{"x":63.25,"y":0.0223},
      {"x":63.75,"y":0.0248},{"x":64.25,"y":0.0218},{"x":64.75,"y":0.0259},{"x":65.25,"y":0.0258},{"x":65.75,"y":0.0227},{"x":66.25,"y":0.0288},{"x":66.75,"y":0.0277},{"x":67.25,"y":0.0315},{"x":67.75,"y":0.032},{"x":71.25,"y":0.032},
      {"x":71.75,"y":0.0262},{"x":72.25,"y":0.024},{"x":72.75,"y":0.0261},{"x":73.25,"y":0.027},{"x":73.75,"y":0.0233},{"x":74.25,"y":0.0218},{"x":74.75,"y":0.025},{"x":75.25,"y":0.0216},{"x":75.75,"y":0.0248},{"x":76.25,"y":0.020},
      {"x":76.75,"y":0.0222},{"x":77.25,"y":0.0189},{"x":77.75,"y":0.0226},{"x":78.25,"y":0.0219},{"x":78.75,"y":0.0176},{"x":79.25,"y":0.0223},{"x":79.75,"y":0.0194},{"x":80.25,"y":0.0209},{"x":80.75,"y":0.0183},{"x":81.25,"y":0.0217},
      {"x":81.75,"y":0.0183},{"x":82.25,"y":0.0174},{"x":82.75,"y":0.0196},{"x":83.25,"y":0.0206},{"x":83.75,"y":0.018},{"x":84.25,"y":0.017},{"x":84.75,"y":0.0197},{"x":85.25,"y":0.0171},{"x":85.75,"y":0.0198},{"x":86.25,"y":0.016},
      {"x":86.75,"y":0.0179},{"x":87.25,"y":0.0153},{"x":87.75,"y":0.0184},{"x":88.25,"y":0.0178},{"x":88.75,"y":0.0145},{"x":89.25,"y":0.0183},{"x":89.75,"y":0.0162}
    ],
    "d_fit": [
      {"x":20,"y":0.0985},{"x":21,"y":0.097},{"x":22,"y":0.096},{"x":23,"y":0.094},{"x":24,"y":0.0915},{"x":25,"y":0.088},{"x":25.5,"y":0.0862},{"x":26,"y":0.085},{"x":26.5,"y":0.0855},{"x":27,"y":0.089},
      {"x":27.4,"y":0.097},{"x":27.7,"y":0.109},{"x":28,"y":0.14},{"x":28.6,"y":0.5},{"x":29.2,"y":0.14},{"x":29.4,"y":0.109},{"x":29.7,"y":0.097},{"x":30,"y":0.088},{"x":30.5,"y":0.079},{"x":31,"y":0.0735},
      {"x":32,"y":0.068},{"x":33,"y":0.0645},{"x":34,"y":0.061},{"x":35,"y":0.0575},{"x":36,"y":0.054},{"x":37,"y":0.051},{"x":38,"y":0.048},{"x":39,"y":0.0455},{"x":40,"y":0.043},{"x":41,"y":0.041},
      {"x":42,"y":0.0395},{"x":43,"y":0.038},{"x":44,"y":0.0365},{"x":45,"y":0.0353},{"x":46,"y":0.0343},{"x":47,"y":0.0333},{"x":48,"y":0.0322},{"x":49,"y":0.0315},{"x":49.8,"y":0.031},{"x":50.1,"y":0.05},
      {"x":50.3,"y":0.0775},{"x":50.5,"y":0.06},{"x":50.8,"y":0.031},{"x":51.2,"y":0.029},{"x":52,"y":0.0295},{"x":53,"y":0.030},{"x":54,"y":0.0305},{"x":55,"y":0.030},{"x":56,"y":0.0295},{"x":57,"y":0.0285},
      {"x":58,"y":0.027},{"x":59,"y":0.026},{"x":60,"y":0.025},{"x":62,"y":0.0245},{"x":64,"y":0.0243},{"x":65,"y":0.0245},{"x":66,"y":0.0262},{"x":67,"y":0.029},{"x":67.6,"y":0.0318},{"x":68,"y":0.036},
      {"x":68.5,"y":0.0424},{"x":68.8,"y":0.06},{"x":68.95,"y":0.109},{"x":69.3,"y":0.4},{"x":69.7,"y":0.12},{"x":69.9,"y":0.09},{"x":70.05,"y":0.12},{"x":70.2,"y":0.4},{"x":70.35,"y":0.109},{"x":70.5,"y":0.06},
      {"x":70.8,"y":0.032},{"x":71.5,"y":0.028},{"x":72.4,"y":0.0257},{"x":74,"y":0.0235},{"x":76,"y":0.0222},{"x":78,"y":0.021},{"x":80,"y":0.0198},{"x":85,"y":0.018},{"x":90,"y":0.0165}
    ],
    "d_lines": [{"x":28.8,"phase":"substrate"},{"x":50.45,"phase":"film"},{"x":69.45,"phase":"substrate"}],
    "d_peaks": [{"x":28.9,"y":0.029,"label":"(111)"},{"x":50.6,"y":0.0908,"label":"(220)"},{"x":69.4,"y":0.0195,"label":"(400)"}],
    "d_tags": [{"x":12.6,"y":0.1041,"label":"(d)"}],
    "d_title": [{"x":89.1,"y":0.0945,"label":"ZrO₂ SCTF"}]
  },
  "vconcat": [
    {
      "width": 537, "height": 110,
      "layer": [
        {"data": {"name": "a_lines"}, "mark": {"type": "rule", "strokeDash": [5, 3], "strokeWidth": 1.6},
         "encoding": {"x": {"field": "x", "type": "quantitative", "scale": {"domain": [20, 90], "nice": false}, "axis": null},
                      "color": {"field": "phase", "type": "nominal", "scale": {"domain": ["substrate", "film"], "range": ["#1ed8f2", "#1ed21e"]}, "legend": null}}},
        {"data": {"name": "a_obs"}, "mark": {"type": "line", "color": "#000", "strokeWidth": 1, "clip": true},
         "encoding": {"x": {"field": "x", "type": "quantitative", "scale": {"domain": [20, 90], "nice": false}, "axis": {"orient": "bottom", "values": [20, 30, 40, 50, 60, 70, 80, 90], "labels": false, "title": null, "tickSize": -7}},
                      "y": {"field": "y", "type": "quantitative", "scale": {"domain": [0.01, 0.1095], "nice": false, "zero": false}, "axis": {"orient": "left", "values": [0.02, 0.04, 0.06, 0.08, 0.1], "format": ".2f", "title": "Intensity (a.u.)", "titleFontSize": 16, "titleFontWeight": "bold", "titlePadding": 2, "labelFontSize": 16, "tickSize": -6, "labelPadding": 8}}}},
        {"data": {"name": "a_fit"}, "mark": {"type": "line", "color": "#f00000", "strokeWidth": 2, "clip": true},
         "encoding": {"x": {"field": "x", "type": "quantitative", "scale": {"domain": [20, 90], "nice": false}, "axis": {"orient": "top", "values": [20, 30, 40, 50, 60, 70, 80, 90], "labels": false, "title": null, "tickSize": -7}},
                      "y": {"field": "y", "type": "quantitative", "scale": {"domain": [0.01, 0.1095], "nice": false, "zero": false}, "axis": {"orient": "right", "values": [0.02, 0.04, 0.06, 0.08, 0.1], "labels": false, "title": null, "tickSize": -6}}}},
        {"data": {"name": "a_peaks"}, "mark": {"type": "text", "fontSize": 14, "fontWeight": "bold", "color": "#222"},
         "encoding": {"x": {"field": "x", "type": "quantitative", "scale": {"domain": [20, 90], "nice": false}, "axis": null}, "y": {"field": "y", "type": "quantitative", "scale": {"domain": [0.01, 0.1095], "nice": false, "zero": false}, "axis": null}, "text": {"field": "label"}}},
        {"data": {"name": "a_tags"}, "mark": {"type": "text", "fontSize": 13, "fontWeight": "bold", "color": "#111"},
         "encoding": {"x": {"field": "x", "type": "quantitative", "scale": {"domain": [20, 90], "nice": false}, "axis": null}, "y": {"field": "y", "type": "quantitative", "scale": {"domain": [0.01, 0.1095], "nice": false, "zero": false}, "axis": null}, "text": {"field": "label"}}},
        {"data": {"name": "a_title"}, "mark": {"type": "text", "fontSize": 17, "fontWeight": "bold", "align": "right", "color": "#111"},
         "encoding": {"x": {"field": "x", "type": "quantitative", "scale": {"domain": [20, 90], "nice": false}, "axis": null}, "y": {"field": "y", "type": "quantitative", "scale": {"domain": [0.01, 0.1095], "nice": false, "zero": false}, "axis": null}, "text": {"field": "label"}}}
      ],
      "resolve": {"axis": {"x": "independent", "y": "independent"}}
    },
    {
      "width": 537, "height": 110,
      "layer": [
        {"data": {"name": "b_lines"}, "mark": {"type": "rule", "strokeDash": [5, 3], "strokeWidth": 1.6},
         "encoding": {"x": {"field": "x", "type": "quantitative", "scale": {"domain": [20, 90], "nice": false}, "axis": null},
                      "color": {"field": "phase", "type": "nominal", "scale": {"domain": ["substrate", "film"], "range": ["#1ed8f2", "#1ed21e"]}, "legend": null}}},
        {"data": {"name": "b_obs"}, "mark": {"type": "line", "color": "#000", "strokeWidth": 1, "clip": true},
         "encoding": {"x": {"field": "x", "type": "quantitative", "scale": {"domain": [20, 90], "nice": false}, "axis": {"orient": "bottom", "values": [20, 30, 40, 50, 60, 70, 80, 90], "labels": false, "title": null, "tickSize": -7}},
                      "y": {"field": "y", "type": "quantitative", "scale": {"domain": [0.01, 0.1095], "nice": false, "zero": false}, "axis": {"orient": "left", "values": [0.02, 0.04, 0.06, 0.08, 0.1], "format": ".2f", "title": "Intensity (a.u.)", "titleFontSize": 16, "titleFontWeight": "bold", "titlePadding": 2, "labelFontSize": 16, "tickSize": -6, "labelPadding": 8}}}},
        {"data": {"name": "b_fit"}, "mark": {"type": "line", "color": "#f00000", "strokeWidth": 2, "clip": true},
         "encoding": {"x": {"field": "x", "type": "quantitative", "scale": {"domain": [20, 90], "nice": false}, "axis": {"orient": "top", "values": [20, 30, 40, 50, 60, 70, 80, 90], "labels": false, "title": null, "tickSize": -7}},
                      "y": {"field": "y", "type": "quantitative", "scale": {"domain": [0.01, 0.1095], "nice": false, "zero": false}, "axis": {"orient": "right", "values": [0.02, 0.04, 0.06, 0.08, 0.1], "labels": false, "title": null, "tickSize": -6}}}},
        {"data": {"name": "b_peaks"}, "mark": {"type": "text", "fontSize": 14, "fontWeight": "bold", "color": "#222"},
         "encoding": {"x": {"field": "x", "type": "quantitative", "scale": {"domain": [20, 90], "nice": false}, "axis": null}, "y": {"field": "y", "type": "quantitative", "scale": {"domain": [0.01, 0.1095], "nice": false, "zero": false}, "axis": null}, "text": {"field": "label"}}},
        {"data": {"name": "b_tags"}, "mark": {"type": "text", "fontSize": 13, "fontWeight": "bold", "color": "#111"},
         "encoding": {"x": {"field": "x", "type": "quantitative", "scale": {"domain": [20, 90], "nice": false}, "axis": null}, "y": {"field": "y", "type": "quantitative", "scale": {"domain": [0.01, 0.1095], "nice": false, "zero": false}, "axis": null}, "text": {"field": "label"}}},
        {"data": {"name": "b_title"}, "mark": {"type": "text", "fontSize": 17, "fontWeight": "bold", "align": "right", "color": "#111"},
         "encoding": {"x": {"field": "x", "type": "quantitative", "scale": {"domain": [20, 90], "nice": false}, "axis": null}, "y": {"field": "y", "type": "quantitative", "scale": {"domain": [0.01, 0.1095], "nice": false, "zero": false}, "axis": null}, "text": {"field": "label"}}}
      ],
      "resolve": {"axis": {"x": "independent", "y": "independent"}}
    },
    {
      "width": 537, "height": 110,
      "layer": [
        {"data": {"name": "c_lines"}, "mark": {"type": "rule", "strokeDash": [5, 3], "strokeWidth": 1.6},
         "encoding": {"x": {"field": "x", "type": "quantitative", "scale": {"domain": [20, 90], "nice": false}, "axis": null},
                      "color": {"field": "phase", "type": "nominal", "scale": {"domain": ["substrate", "film"], "range": ["#1ed8f2", "#1ed21e"]}, "legend": null}}},
        {"data": {"name": "c_obs"}, "mark": {"type": "line", "color": "#000", "strokeWidth": 1, "clip": true},
         "encoding": {"x": {"field": "x", "type": "quantitative", "scale": {"domain": [20, 90], "nice": false}, "axis": {"orient": "bottom", "values": [20, 30, 40, 50, 60, 70, 80, 90], "labels": false, "title": null, "tickSize": -7}},
                      "y": {"field": "y", "type": "quantitative", "scale": {"domain": [0.01, 0.1095], "nice": false, "zero": false}, "axis": {"orient": "left", "values": [0.02, 0.04, 0.06, 0.08, 0.1], "format": ".2f", "title": "Intensity (a.u.)", "titleFontSize": 16, "titleFontWeight": "bold", "titlePadding": 2, "labelFontSize": 16, "tickSize": -6, "labelPadding": 8}}}},
        {"data": {"name": "c_fit"}, "mark": {"type": "line", "color": "#f00000", "strokeWidth": 2, "clip": true},
         "encoding": {"x": {"field": "x", "type": "quantitative", "scale": {"domain": [20, 90], "nice": false}, "axis": {"orient": "top", "values": [20, 30, 40, 50, 60, 70, 80, 90], "labels": false, "title": null, "tickSize": -7}},
                      "y": {"field": "y", "type": "quantitative", "scale": {"domain": [0.01, 0.1095], "nice": false, "zero": false}, "axis": {"orient": "right", "values": [0.02, 0.04, 0.06, 0.08, 0.1], "labels": false, "title": null, "tickSize": -6}}}},
        {"data": {"name": "c_peaks"}, "mark": {"type": "text", "fontSize": 14, "fontWeight": "bold", "color": "#222"},
         "encoding": {"x": {"field": "x", "type": "quantitative", "scale": {"domain": [20, 90], "nice": false}, "axis": null}, "y": {"field": "y", "type": "quantitative", "scale": {"domain": [0.01, 0.1095], "nice": false, "zero": false}, "axis": null}, "text": {"field": "label"}}},
        {"data": {"name": "c_tags"}, "mark": {"type": "text", "fontSize": 13, "fontWeight": "bold", "color": "#111"},
         "encoding": {"x": {"field": "x", "type": "quantitative", "scale": {"domain": [20, 90], "nice": false}, "axis": null}, "y": {"field": "y", "type": "quantitative", "scale": {"domain": [0.01, 0.1095], "nice": false, "zero": false}, "axis": null}, "text": {"field": "label"}}},
        {"data": {"name": "c_title"}, "mark": {"type": "text", "fontSize": 17, "fontWeight": "bold", "align": "right", "color": "#111"},
         "encoding": {"x": {"field": "x", "type": "quantitative", "scale": {"domain": [20, 90], "nice": false}, "axis": null}, "y": {"field": "y", "type": "quantitative", "scale": {"domain": [0.01, 0.1095], "nice": false, "zero": false}, "axis": null}, "text": {"field": "label"}}}
      ],
      "resolve": {"axis": {"x": "independent", "y": "independent"}}
    },
    {
      "width": 537, "height": 110,
      "layer": [
        {"data": {"name": "d_lines"}, "mark": {"type": "rule", "strokeDash": [5, 3], "strokeWidth": 1.6},
         "encoding": {"x": {"field": "x", "type": "quantitative", "scale": {"domain": [20, 90], "nice": false}, "axis": null},
                      "color": {"field": "phase", "type": "nominal", "scale": {"domain": ["substrate", "film"], "range": ["#1ed8f2", "#1ed21e"]}, "legend": null}}},
        {"data": {"name": "d_obs"}, "mark": {"type": "line", "color": "#000", "strokeWidth": 1, "clip": true},
         "encoding": {"x": {"field": "x", "type": "quantitative", "scale": {"domain": [20, 90], "nice": false}, "axis": {"orient": "bottom", "values": [20, 30, 40, 50, 60, 70, 80, 90], "title": "2θ (deg)", "titleFontSize": 16, "titleFontWeight": "bold", "titlePadding": 1, "labelFontSize": 16, "tickSize": -7, "labelPadding": 11}},
                      "y": {"field": "y", "type": "quantitative", "scale": {"domain": [0.01, 0.1095], "nice": false, "zero": false}, "axis": {"orient": "left", "values": [0.02, 0.04, 0.06, 0.08, 0.1], "format": ".2f", "title": "Intensity (a.u.)", "titleFontSize": 16, "titleFontWeight": "bold", "titlePadding": 2, "labelFontSize": 16, "tickSize": -6, "labelPadding": 8}}}},
        {"data": {"name": "d_fit"}, "mark": {"type": "line", "color": "#f00000", "strokeWidth": 2, "clip": true},
         "encoding": {"x": {"field": "x", "type": "quantitative", "scale": {"domain": [20, 90], "nice": false}, "axis": {"orient": "top", "values": [20, 30, 40, 50, 60, 70, 80, 90], "labels": false, "title": null, "tickSize": -7}},
                      "y": {"field": "y", "type": "quantitative", "scale": {"domain": [0.01, 0.1095], "nice": false, "zero": false}, "axis": {"orient": "right", "values": [0.02, 0.04, 0.06, 0.08, 0.1], "labels": false, "title": null, "tickSize": -6}}}},
        {"data": {"name": "d_peaks"}, "mark": {"type": "text", "fontSize": 14, "fontWeight": "bold", "color": "#222"},
         "encoding": {"x": {"field": "x", "type": "quantitative", "scale": {"domain": [20, 90], "nice": false}, "axis": null}, "y": {"field": "y", "type": "quantitative", "scale": {"domain": [0.01, 0.1095], "nice": false, "zero": false}, "axis": null}, "text": {"field": "label"}}},
        {"data": {"name": "d_tags"}, "mark": {"type": "text", "fontSize": 13, "fontWeight": "bold", "color": "#111"},
         "encoding": {"x": {"field": "x", "type": "quantitative", "scale": {"domain": [20, 90], "nice": false}, "axis": null}, "y": {"field": "y", "type": "quantitative", "scale": {"domain": [0.01, 0.1095], "nice": false, "zero": false}, "axis": null}, "text": {"field": "label"}}},
        {"data": {"name": "d_title"}, "mark": {"type": "text", "fontSize": 17, "fontWeight": "bold", "align": "right", "color": "#111"},
         "encoding": {"x": {"field": "x", "type": "quantitative", "scale": {"domain": [20, 90], "nice": false}, "axis": null}, "y": {"field": "y", "type": "quantitative", "scale": {"domain": [0.01, 0.1095], "nice": false, "zero": false}, "axis": null}, "text": {"field": "label"}}}
      ],
      "resolve": {"axis": {"x": "independent", "y": "independent"}}
    }
  ]
}
